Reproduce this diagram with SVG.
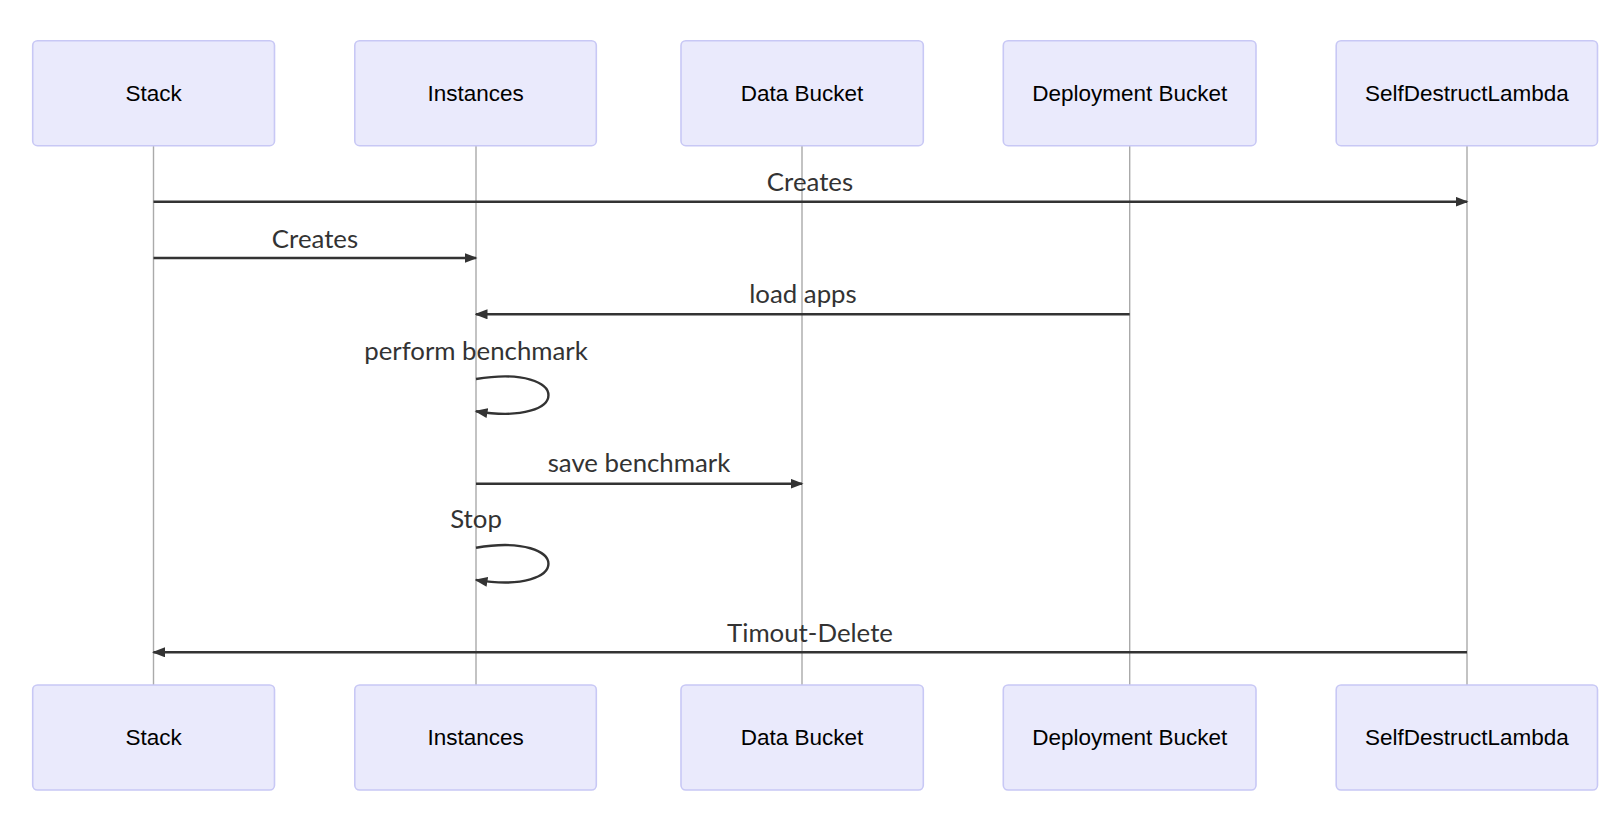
<svg xmlns="http://www.w3.org/2000/svg" width="1618" height="818" viewBox="0 0 1618 818">
<style>
.actor rect{fill:#EAEAFC;stroke:#C8C8F5;stroke-width:1.6}
.actor text{font-family:"Liberation Sans",Arial,sans-serif;font-size:22.5px;fill:#000;text-anchor:middle;dominant-baseline:central}
.lifeline{stroke:#aaa;stroke-width:1.4}
.msg{stroke:#333;stroke-width:2.4;fill:none;marker-end:url(#arrow)}
.label{font-family:Lato,"Open Sans",sans-serif;font-size:25.8px;fill:#333;text-anchor:middle}
</style>
<defs>
<marker id="arrow" markerUnits="userSpaceOnUse" viewBox="0 0 13 10" refX="11.5" refY="5" markerWidth="13" markerHeight="10" orient="auto">
<path d="M0,0 L13,5 L0,10 z" fill="#333"/>
</marker>
</defs>
<rect width="1618" height="818" fill="#fff"/>
<g id="lifelines">
<line class="lifeline" x1="153.5" y1="146" x2="153.5" y2="685"/>
<line class="lifeline" x1="476" y1="146" x2="476" y2="685"/>
<line class="lifeline" x1="802" y1="146" x2="802" y2="685"/>
<line class="lifeline" x1="1129.7" y1="146" x2="1129.7" y2="685"/>
<line class="lifeline" x1="1467" y1="146" x2="1467" y2="685"/>
</g>
<g id="stack-top" class="actor"><rect x="32.7" y="40.7" width="241.8" height="105" rx="4.8"/><text x="153.6" y="93.2">Stack</text></g>
<g id="instances-top" class="actor"><rect x="354.8" y="40.7" width="241.5" height="105" rx="4.8"/><text x="475.6" y="93.2">Instances</text></g>
<g id="databucket-top" class="actor"><rect x="681" y="40.7" width="242.3" height="105" rx="4.8"/><text x="802" y="93.2">Data Bucket</text></g>
<g id="deploymentbucket-top" class="actor"><rect x="1003.3" y="40.7" width="252.7" height="105" rx="4.8"/><text x="1129.7" y="93.2">Deployment Bucket</text></g>
<g id="selfdestructlambda-top" class="actor"><rect x="1336.2" y="40.7" width="261.3" height="105" rx="4.8"/><text x="1466.9" y="93.2">SelfDestructLambda</text></g>
<g id="stack-bottom" class="actor"><rect x="32.7" y="685" width="241.8" height="105" rx="4.8"/><text x="153.6" y="737.5">Stack</text></g>
<g id="instances-bottom" class="actor"><rect x="354.8" y="685" width="241.5" height="105" rx="4.8"/><text x="475.6" y="737.5">Instances</text></g>
<g id="databucket-bottom" class="actor"><rect x="681" y="685" width="242.3" height="105" rx="4.8"/><text x="802" y="737.5">Data Bucket</text></g>
<g id="deploymentbucket-bottom" class="actor"><rect x="1003.3" y="685" width="252.7" height="105" rx="4.8"/><text x="1129.7" y="737.5">Deployment Bucket</text></g>
<g id="selfdestructlambda-bottom" class="actor"><rect x="1336.2" y="685" width="261.3" height="105" rx="4.8"/><text x="1466.9" y="737.5">SelfDestructLambda</text></g>
<g id="connectors">
<text class="label" x="810" y="191">Creates</text>
<line class="msg" x1="153.5" y1="201.7" x2="1467" y2="201.7"/>
<text class="label" x="315" y="247.5">Creates</text>
<line class="msg" x1="153.5" y1="258" x2="476" y2="258"/>
<text class="label" x="803" y="302.5">load apps</text>
<line class="msg" x1="1129.7" y1="314.3" x2="476" y2="314.3"/>
<text class="label" x="476" y="360">perform benchmark</text>
<path class="msg" d="M476,379 C572.6,363 572.6,427.3 476,411.2"/>
<text class="label" x="639" y="472">save benchmark</text>
<line class="msg" x1="476" y1="483.7" x2="802" y2="483.7"/>
<text class="label" x="476" y="528.3">Stop</text>
<path class="msg" d="M476,547.7 C572.6,531.7 572.6,596 476,579.9"/>
<text class="label" x="810" y="641.7">Timout-Delete</text>
<line class="msg" x1="1467" y1="652.3" x2="153.5" y2="652.3"/>
</g>
</svg>
